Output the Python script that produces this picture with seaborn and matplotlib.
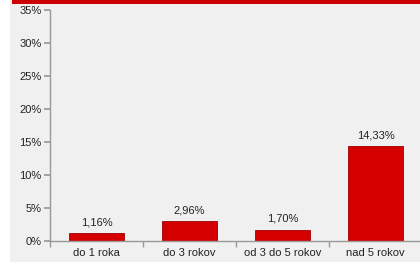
import matplotlib
matplotlib.use("Agg")
import matplotlib.pyplot as plt
import seaborn as sns
import pandas as pd
from matplotlib.patches import Rectangle

categories = ["do 1 roka", "do 3 rokov", "od 3 do 5 rokov", "nad 5 rokov"]
values = [1.16, 2.96, 1.70, 14.33]
labels = ["1,16%", "2,96%", "1,70%", "14,33%"]
yticks = [0, 5, 10, 15, 20, 25, 30, 35]

sns.set_theme(style="white")
plt.rcParams['font.family'] = ['Liberation Sans', 'DejaVu Sans']

df = pd.DataFrame({"cat": categories, "val": values})

fig = plt.figure(figsize=(4.2, 2.62), dpi=100, facecolor="white")
# gray background panel
fig.patches.append(Rectangle((10/420, 0), 1 - 10/420, 1, transform=fig.transFigure,
                             facecolor="#f0f0f0", edgecolor="none", zorder=-10))
# red title banner (clipped at top)
fig.patches.append(Rectangle((12/420, 1 - 4/262), 1 - 12/420, 4/262, transform=fig.transFigure,
                             facecolor="#cc0000", edgecolor="none", zorder=-5))

ax = fig.add_axes([50/420, 21/262, 372/420, 231/262])
ax.set_facecolor("none")
sns.barplot(data=df, x="cat", y="val", ax=ax, color="#d40000", width=0.59,
            edgecolor="#a00000", linewidth=0.6, saturation=1)
ax.set_ylim(0, 35)
ax.set_xlim(-0.5, 3.5)
ax.set_yticks(yticks)
ax.set_yticklabels([f"{t}%" for t in yticks], fontsize=8, color="#222222")
ax.tick_params(axis="x", labelsize=8, colors="#222222", length=0, pad=5)
ax.tick_params(axis="y", length=4, color="#999999", pad=2, left=True)
# minor ticks between categories on x axis
ax.set_xticks([-0.5, 0.5, 1.5, 2.5, 3.5], minor=True)
ax.tick_params(axis="x", which="minor", length=4, color="#999999", bottom=True)
ax.set_xlabel("")
ax.set_ylabel("")
for s in ["top", "right"]:
    ax.spines[s].set_visible(False)
for s in ["left", "bottom"]:
    ax.spines[s].set_color("#999999")
    ax.spines[s].set_linewidth(1)
for i, (v, l) in enumerate(zip(values, labels)):
    ax.text(i, v + 0.9, l, ha="center", va="bottom", fontsize=8, color="#222222")

fig.savefig("out.png", dpi=100, facecolor="white")
